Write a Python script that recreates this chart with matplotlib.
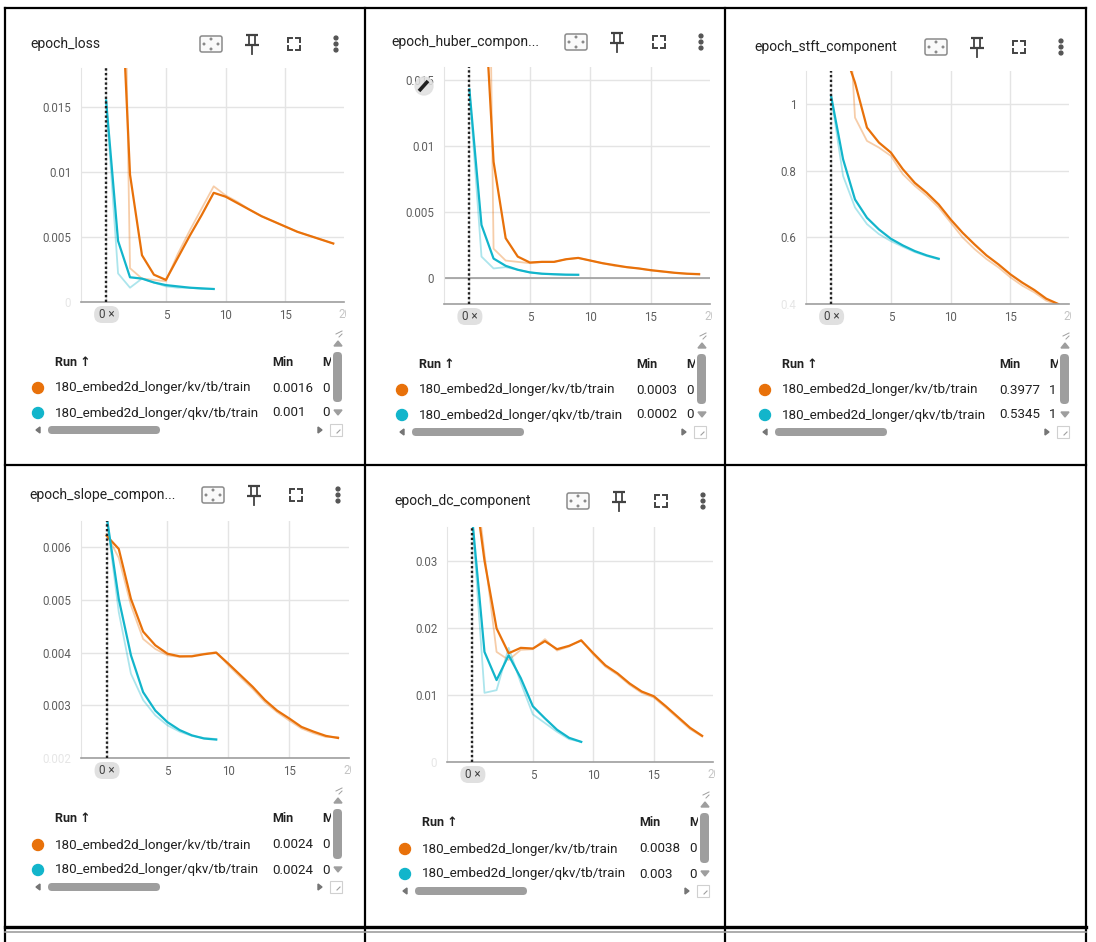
import matplotlib.pyplot as plt
from matplotlib.patches import FancyBboxPatch, Circle, Rectangle, Polygon
from matplotlib.transforms import Bbox

plt.rcParams['font.family'] = ['Roboto', 'DejaVu Sans']

W, H = 1096, 942
ORANGE = '#e8710a'
CYAN = '#12b5cb'

# ---- data ----
kv_steps = list(range(20))
qkv_steps = list(range(10))

run_names = ['180_embed2d_longer/kv/tb/train', '180_embed2d_longer/qkv/tb/train']
chart_titles = ['epoch_loss', 'epoch_huber_compon...', 'epoch_stft_component',
                'epoch_slope_compon...', 'epoch_dc_component']

loss_kv_raw = [0.06, 0.058, 0.0026, 0.0018, 0.0017, 0.0016, 0.0037, 0.0055, 0.0072, 0.0089,
               0.0082, 0.0077, 0.0071, 0.0066, 0.0062, 0.0058, 0.0054, 0.0051, 0.0048, 0.0045]
loss_kv_smooth = [0.06, 0.030, 0.0098, 0.0036, 0.0021, 0.0017, 0.0034, 0.0051, 0.0067, 0.0084,
                  0.0081, 0.0076, 0.0071, 0.0066, 0.0062, 0.0058, 0.0054, 0.0051, 0.0048, 0.0045]
loss_qkv_raw = [0.0155, 0.0022, 0.0011, 0.0018, 0.0015, 0.0012, 0.0011, 0.0011, 0.001, 0.001]
loss_qkv_smooth = [0.0155, 0.0047, 0.0019, 0.0018, 0.0015, 0.0013, 0.0012, 0.0011, 0.00105, 0.001]

huber_kv_raw = [0.08, 0.071, 0.0022, 0.0013, 0.0012, 0.0011, 0.0012, 0.0012, 0.0014, 0.0015,
                0.0013, 0.0011, 0.0009, 0.0008, 0.0007, 0.00055, 0.00045, 0.00035, 0.0003, 0.0003]
huber_kv_smooth = [0.08, 0.0255, 0.0088, 0.003, 0.0016, 0.00115, 0.0012, 0.0012, 0.0014, 0.0015,
                   0.0013, 0.0011, 0.00095, 0.0008, 0.0007, 0.00057, 0.00047, 0.00037, 0.0003, 0.00026]
huber_qkv_raw = [0.0143, 0.0016, 0.0007, 0.0008, 0.0006, 0.0004, 0.0003, 0.00025, 0.0002, 0.0002]
huber_qkv_smooth = [0.0143, 0.004, 0.00145, 0.0009, 0.0006, 0.0004, 0.0003, 0.00026, 0.00023, 0.00022]

stft_kv_raw = [1.9, 1.6, 0.96, 0.89, 0.87, 0.845, 0.79, 0.755, 0.725, 0.69,
               0.645, 0.6, 0.565, 0.535, 0.51, 0.48, 0.455, 0.435, 0.41, 0.3977]
stft_kv_smooth = [1.25, 1.17, 1.065, 0.93, 0.885, 0.855, 0.805, 0.764, 0.734, 0.699,
                  0.654, 0.614, 0.579, 0.546, 0.519, 0.489, 0.464, 0.442, 0.416, 0.40]
stft_qkv_raw = [1.025, 0.785, 0.69, 0.64, 0.61, 0.589, 0.572, 0.556, 0.544, 0.5345]
stft_qkv_smooth = [1.025, 0.835, 0.714, 0.659, 0.624, 0.596, 0.576, 0.559, 0.546, 0.536]

slope_kv_raw = [0.00625, 0.0058, 0.0049, 0.00426, 0.00407, 0.00395, 0.00392, 0.00394, 0.00398, 0.00401,
                0.00376, 0.00353, 0.00331, 0.00306, 0.00287, 0.00271, 0.00256, 0.00247, 0.0024, 0.0024]
slope_kv_smooth = [0.00622, 0.00597, 0.00502, 0.0044, 0.00414, 0.00398, 0.00393, 0.00393, 0.00397, 0.004,
                   0.00379, 0.00357, 0.00335, 0.0031, 0.0029, 0.00275, 0.00259, 0.0025, 0.00242, 0.00238]
slope_qkv_raw = [0.0066, 0.00477, 0.0036, 0.0031, 0.00281, 0.00262, 0.0025, 0.00242, 0.00238, 0.00236]
slope_qkv_smooth = [0.0066, 0.00502, 0.00395, 0.00325, 0.0029, 0.00268, 0.00253, 0.00243, 0.00237, 0.00235]

dc_kv_raw = [0.046, 0.031, 0.0164, 0.0152, 0.0167, 0.0168, 0.0183, 0.0166, 0.0172, 0.0182,
             0.016, 0.0142, 0.013, 0.0115, 0.0103, 0.0096, 0.0081, 0.0065, 0.0049, 0.0038]
dc_kv_smooth = [0.0435, 0.030, 0.0199, 0.0162, 0.017, 0.0169, 0.018, 0.0168, 0.0173, 0.0181,
                0.0162, 0.0144, 0.0132, 0.0117, 0.0105, 0.0098, 0.0083, 0.0067, 0.0051, 0.0039]
dc_qkv_raw = [0.036, 0.0103, 0.0107, 0.017, 0.0118, 0.0071, 0.0058, 0.0045, 0.0034, 0.003]
dc_qkv_smooth = [0.036, 0.0164, 0.0122, 0.0159, 0.0125, 0.0083, 0.0065, 0.0048, 0.0036, 0.003]

ytick_values = [[0, 0.005, 0.01, 0.015], [0, 0.005, 0.01, 0.015], [0.4, 0.6, 0.8, 1.0],
                [0.002, 0.003, 0.004, 0.005, 0.006], [0, 0.01, 0.02, 0.03]]
ytick_labels = [['0', '0.005', '0.01', '0.015'], ['0', '0.005', '0.01', '0.015'],
                ['0.4', '0.6', '0.8', '1'], ['0.002', '0.003', '0.004', '0.005', '0.006'],
                ['0', '0.01', '0.02', '0.03']]
min_labels = [['0.0016', '0.001'], ['0.0003', '0.0002'], ['0.3977', '0.5345'],
              ['0.0024', '0.0024'], ['0.0038', '0.003']]
max_labels = [['0', '0'], ['0', '0'], ['1', '1'], ['0', '0'], ['0', '0']]

series = [
    (loss_kv_raw, loss_kv_smooth, loss_qkv_raw, loss_qkv_smooth),
    (huber_kv_raw, huber_kv_smooth, huber_qkv_raw, huber_qkv_smooth),
    (stft_kv_raw, stft_kv_smooth, stft_qkv_raw, stft_qkv_smooth),
    (slope_kv_raw, slope_kv_smooth, slope_qkv_raw, slope_qkv_smooth),
    (dc_kv_raw, dc_kv_smooth, dc_qkv_raw, dc_qkv_smooth),
]

# ---- layout in screen pixels (top-left origin) ----
layout = [
    dict(title=(30, 44), icons=(211, 44), axes=(81, 68, 344, 302), dot=(38, 362), ylim=(0, 0.018)),
    dict(title=(391, 42), icons=(576, 42), axes=(444, 67, 710, 304), dot=(402, 364), ylim=(-0.002, 0.016)),
    dict(title=(754, 47), icons=(936, 47), axes=(806, 71, 1069, 304), dot=(765, 364), ylim=(0.4, 1.1)),
    dict(title=(29, 495), icons=(213, 495), axes=(81, 521, 349, 758), dot=(38, 819), ylim=(0.002, 0.0065)),
    dict(title=(394, 501), icons=(578, 501), axes=(447, 527, 713, 762), dot=(405, 823), ylim=(0, 0.035)),
]
XLIM = (-2.1, 19.9)

fig = plt.figure(figsize=(W / 100, H / 100), dpi=100)
fig.patch.set_facecolor('white')

ov = fig.add_axes([0, 0, 1, 1], zorder=10)
ov.set_xlim(0, W)
ov.set_ylim(H, 0)
ov.axis('off')
ov.patch.set_visible(False)


def px_axes(l, t, r, b):
    return fig.add_axes([l / W, 1 - b / H, (r - l) / W, (b - t) / H])


def clip_text(txt, x0, y0, x1, y1):
    # screen pixels (top-left origin) -> display box
    txt.set_clip_box(Bbox.from_extents(x0, H - y1, x1, H - y0))
    txt.set_clip_on(True)


def draw_icons(x, y):
    dark = '#424242'
    # fit to data
    ov.add_patch(FancyBboxPatch((x - 11, y - 8), 22, 16, boxstyle='round,pad=0,rounding_size=2',
                                fc='#fafafa', ec='#8a8a8a', lw=1.1))
    for ddx, ddy in [(0, -5), (0, 5), (-7, 0), (7, 0)]:
        ov.add_patch(Circle((x + ddx, y + ddy), 0.8, color='#8a8a8a'))
    # pin
    px = x + 41
    ov.plot([px - 6, px + 6], [y - 9, y - 9], color=dark, lw=1.6, solid_capstyle='butt')
    ov.plot([px - 3, px - 3], [y - 9, y + 1], color=dark, lw=1.3)
    ov.plot([px + 3, px + 3], [y - 9, y + 1], color=dark, lw=1.3)
    ov.plot([px - 7, px + 7], [y + 1, y + 1], color=dark, lw=1.6, solid_capstyle='butt')
    ov.plot([px, px], [y + 1, y + 10], color=dark, lw=1.3)
    # fullscreen
    fx = x + 83
    for sx in (-1, 1):
        for sy in (-1, 1):
            ov.plot([fx + sx * 6, fx + sx * 6, fx + sx * 2], [y + sy * 2, y + sy * 6, y + sy * 6],
                    color=dark, lw=1.4, solid_joinstyle='miter')
    # menu
    mx = x + 125
    for dy in (-6, 0, 6):
        ov.add_patch(Circle((mx, y + dy), 1.9, color='#555555'))


def draw_legend(i, dx, hy):
    bold = dict(fontsize=9, fontweight='bold', color='#212121', va='center')
    ov.text(dx + 17, hy, 'Run \u2191', **bold)
    ov.text(dx + 234, hy, 'Min', **bold)
    t = ov.text(dx + 284, hy, 'Max', **bold)
    clip_text(t, dx + 280, hy - 12, dx + 293, hy + 12)
    for k, color in enumerate([ORANGE, CYAN]):
        ry = hy + 26 + 25 * k
        ov.add_patch(Circle((dx, ry), 5.5, color=color))
        ov.text(dx + 17, ry, run_names[k], fontsize=9.6, color='#212121', va='center')
        ov.text(dx + 234, ry, min_labels[i][k], fontsize=9.6, color='#212121', va='center')
        ov.text(dx + 284, ry, max_labels[i][k], fontsize=9.6, color='#212121', va='center')
    # vertical scrollbar
    ov.add_patch(FancyBboxPatch((dx + 295, hy - 10), 9, 50, boxstyle='round,pad=0,rounding_size=4',
                                fc='#9e9e9e', ec='none'))
    ov.add_patch(Polygon([(dx + 296, hy - 16), (dx + 304, hy - 16), (dx + 300, hy - 21)], color='#9e9e9e'))
    ov.add_patch(Polygon([(dx + 296, hy + 48), (dx + 304, hy + 48), (dx + 300, hy + 53)], color='#9e9e9e'))
    # horizontal scrollbar
    sy = hy + 68
    ov.add_patch(FancyBboxPatch((dx + 10, sy - 4), 112, 8, boxstyle='round,pad=0,rounding_size=4',
                                fc='#9e9e9e', ec='none'))
    ov.add_patch(Polygon([(dx + 2, sy - 3), (dx + 2, sy + 3), (dx - 2, sy)], color='#757575'))
    ov.add_patch(Polygon([(dx + 280, sy - 3), (dx + 280, sy + 3), (dx + 284, sy)], color='#757575'))
    ov.add_patch(Rectangle((dx + 292, sy - 6), 12, 12, fc='white', ec='#d0d0d0', lw=0.8))
    ov.plot([dx + 299, dx + 302], [sy + 3, sy], color='#9e9e9e', lw=0.8)
    # resize handle
    for off in (0, 3):
        ov.plot([dx + 298 + off, dx + 304], [hy - 28 + off, hy - 34 + off + 3], color='#9e9e9e', lw=0.7)


for i in range(5):
    lay = layout[i]
    l, t, r, b = lay['axes']
    kv_raw, kv_smooth, qkv_raw, qkv_smooth = series[i]

    ax = px_axes(l, t, r, b)
    ax.plot(kv_steps, kv_raw, color=ORANGE, alpha=0.35, lw=1.3)
    ax.plot(qkv_steps, qkv_raw, color=CYAN, alpha=0.35, lw=1.3)
    ax.plot(kv_steps, kv_smooth, color=ORANGE, lw=1.6)
    ax.plot(qkv_steps, qkv_smooth, color=CYAN, lw=1.6)
    ax.axvline(0, color='#212121', ls=(0, (1, 1)), lw=1.7, zorder=5)
    if lay['ylim'][0] < 0:
        ax.axhline(0, color='#9e9e9e', lw=1.2, zorder=1.5)

    ax.set_xlim(*XLIM)
    ax.set_ylim(*lay['ylim'])
    ax.set_xticks([0, 5, 10, 15])
    ax.set_xticklabels(['', '5', '10', '15'])
    ax.set_yticks(ytick_values[i])
    ax.set_yticklabels(ytick_labels[i])
    ax.grid(True, color='#e4e4e4', lw=1)
    ax.set_axisbelow(True)
    ax.tick_params(length=0, labelsize=8.3, labelcolor='#5f5f5f')
    ax.tick_params(axis='y', pad=7)
    ax.tick_params(axis='x', pad=5)
    for lbl, v in zip(ax.get_yticklabels(), ytick_values[i]):
        if abs(v - lay['ylim'][0]) < 1e-12:
            lbl.set_color('#e6e6e6')
    for s in ('top', 'right'):
        ax.spines[s].set_visible(False)
    ax.spines['left'].set_color('#e4e4e4')
    ax.spines['bottom'].set_color('#9e9e9e')
    ax.spines['bottom'].set_linewidth(1.2)

    # x = 0 chip and clipped "20" label
    x0 = l + (0 - XLIM[0]) / (XLIM[1] - XLIM[0]) * (r - l)
    ov.add_patch(FancyBboxPatch((x0 - 12, b + 4), 25, 17, boxstyle='round,pad=0,rounding_size=8',
                                fc='#e0e0e0', ec='none'))
    ov.text(x0 + 0.5, b + 12.5, '0 \u00d7', fontsize=8.5, color='#424242', ha='center', va='center')
    x20 = l + (20 - XLIM[0]) / (XLIM[1] - XLIM[0]) * (r - l)
    t20 = ov.text(x20, b + 12, '20', fontsize=8.3, color='#c4c4c4', ha='center', va='center')
    clip_text(t20, r - 10, b, r + 2, b + 25)

    ov.text(lay['title'][0], lay['title'][1], chart_titles[i], fontsize=10, color='#212121', va='center')
    draw_icons(*lay['icons'])
    draw_legend(i, *lay['dot'])

# pencil badge over the huber chart's top tick label
ov.add_patch(Circle((424, 86), 9, color='#e0e0e0', alpha=0.85))
ov.plot([419, 428], [91, 81], color='#212121', lw=2.6, solid_capstyle='butt')

# panel borders
for x in (5, 365, 725, 1086):
    ov.plot([x, x], [8, H], color='black', lw=1.6)
for y in (8, 465):
    ov.plot([5, 1086], [y, y], color='black', lw=1.6)
ov.plot([5, 1086], [927, 927], color='black', lw=2.4)
ov.plot([5, 1086], [932, 932], color='#9e9e9e', lw=1.2)

fig.savefig('out.png', dpi=100, facecolor='white')
